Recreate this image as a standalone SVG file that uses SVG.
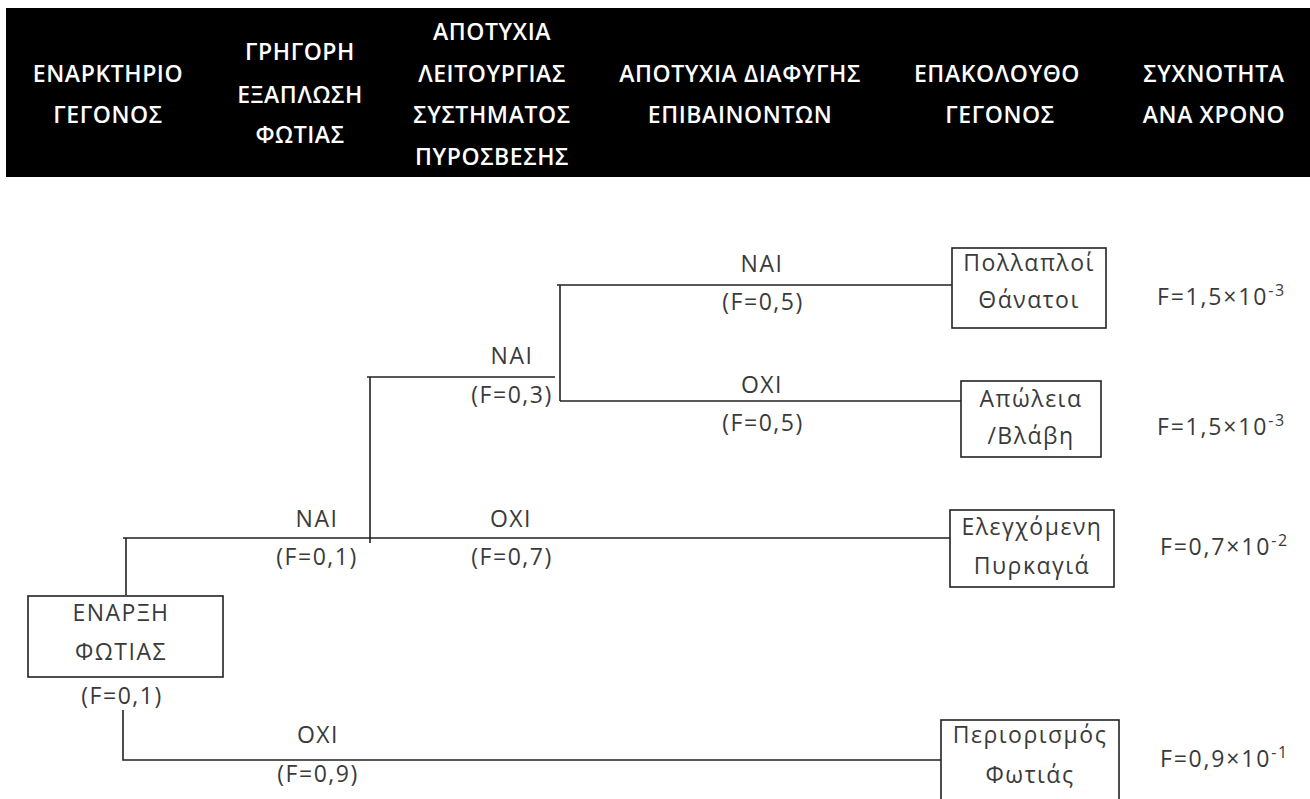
<svg xmlns="http://www.w3.org/2000/svg" width="1310" height="799" viewBox="0 0 1310 799">
<style>
.hd{font-family:"Open Sans","Liberation Sans",sans-serif;font-weight:600;font-size:23px;fill:#fff;text-anchor:middle;letter-spacing:0.6px}
.t{font-family:"Open Sans","Liberation Sans",sans-serif;font-size:23px;fill:#3a3a3a;text-anchor:middle;letter-spacing:1.5px}
.f{font-family:"Open Sans","Liberation Sans",sans-serif;font-size:23px;fill:#3a3a3a;letter-spacing:1.8px}
.sup{font-size:16px}
.box{fill:#fff;stroke:#222;stroke-width:1.6}
.ln{fill:none;stroke:#222;stroke-width:1.6}
</style>
<rect width="1310" height="799" fill="#fff"/>
<g id="header">
<rect x="6" y="8" width="1304" height="169" fill="#000"/>
<text class="hd" x="108" y="82">ΕΝΑΡΚΤΗΡΙΟ</text>
<text class="hd" x="108" y="123">ΓΕΓΟΝΟΣ</text>
<text class="hd" x="300" y="60">ΓΡΗΓΟΡΗ</text>
<text class="hd" x="300" y="103">ΕΞΑΠΛΩΣΗ</text>
<text class="hd" x="300" y="143">ΦΩΤΙΑΣ</text>
<text class="hd" x="492" y="40">ΑΠΟΤΥΧΙΑ</text>
<text class="hd" x="492" y="82">ΛΕΙΤΟΥΡΓΙΑΣ</text>
<text class="hd" x="492" y="123">ΣΥΣΤΗΜΑΤΟΣ</text>
<text class="hd" x="492" y="165">ΠΥΡΟΣΒΕΣΗΣ</text>
<text class="hd" x="740" y="82">ΑΠΟΤΥΧΙΑ ΔΙΑΦΥΓΗΣ</text>
<text class="hd" x="740" y="123">ΕΠΙΒΑΙΝΟΝΤΩΝ</text>
<text class="hd" x="997" y="82">ΕΠΑΚΟΛΟΥΘΟ</text>
<text class="hd" x="1000" y="123">ΓΕΓΟΝΟΣ</text>
<text class="hd" x="1214" y="82">ΣΥΧΝΟΤΗΤΑ</text>
<text class="hd" x="1214" y="123">ΑΝΑ ΧΡΟΝΟ</text>
</g>
<g id="connectors">
<path class="ln" d="M126 595 V538 M123 538 H950"/>
<path class="ln" d="M370 543 V377 M367 377 H555"/>
<path class="ln" d="M560 401 V285 M557 285 H952"/>
<path class="ln" d="M560 401 H961"/>
<path class="ln" d="M123 710 V760 H941"/>
</g>
<g id="labels">
<text class="t" x="317" y="527">ΝΑΙ</text>
<text class="t" x="317" y="565">(F=0,1)</text>
<text class="t" x="511" y="527">ΟΧΙ</text>
<text class="t" x="512" y="565">(F=0,7)</text>
<text class="t" x="512" y="364">ΝΑΙ</text>
<text class="t" x="512" y="403">(F=0,3)</text>
<text class="t" x="762" y="272">ΝΑΙ</text>
<text class="t" x="763" y="310">(F=0,5)</text>
<text class="t" x="762" y="393">ΟΧΙ</text>
<text class="t" x="763" y="431">(F=0,5)</text>
<text class="t" x="318" y="743">ΟΧΙ</text>
<text class="t" x="318" y="782">(F=0,9)</text>
</g>
<g id="node-start">
<rect class="box" x="28" y="596" width="195" height="81"/>
<text class="t" x="121" y="621">ΕΝΑΡΞΗ</text>
<text class="t" x="121" y="660">ΦΩΤΙΑΣ</text>
<text class="t" x="122" y="704">(F=0,1)</text>
</g>
<g id="node-deaths">
<rect class="box" x="952" y="248" width="154" height="80"/>
<text class="t" x="1029" y="271">Πολλαπλοί</text>
<text class="t" x="1029" y="308">Θάνατοι</text>
<text class="f" x="1157" y="305">F=1,5×10<tspan class="sup" dy="-9">-3</tspan></text>
</g>
<g id="node-loss">
<rect class="box" x="961" y="381" width="140" height="76"/>
<text class="t" x="1031" y="407">Απώλεια</text>
<text class="t" x="1031" y="444">/Βλάβη</text>
<text class="f" x="1157" y="435">F=1,5×10<tspan class="sup" dy="-9">-3</tspan></text>
</g>
<g id="node-controlled">
<rect class="box" x="950" y="510" width="164" height="77"/>
<text class="t" x="1032" y="535">Ελεγχόμενη</text>
<text class="t" x="1032" y="574">Πυρκαγιά</text>
<text class="f" x="1160" y="555">F=0,7×10<tspan class="sup" dy="-9">-2</tspan></text>
</g>
<g id="node-contained">
<rect class="box" x="941" y="720" width="178" height="90"/>
<text class="t" x="1030" y="743">Περιορισμός</text>
<text class="t" x="1030" y="783">Φωτιάς</text>
<text class="f" x="1160" y="767">F=0,9×10<tspan class="sup" dy="-9">-1</tspan></text>
</g>
</svg>
